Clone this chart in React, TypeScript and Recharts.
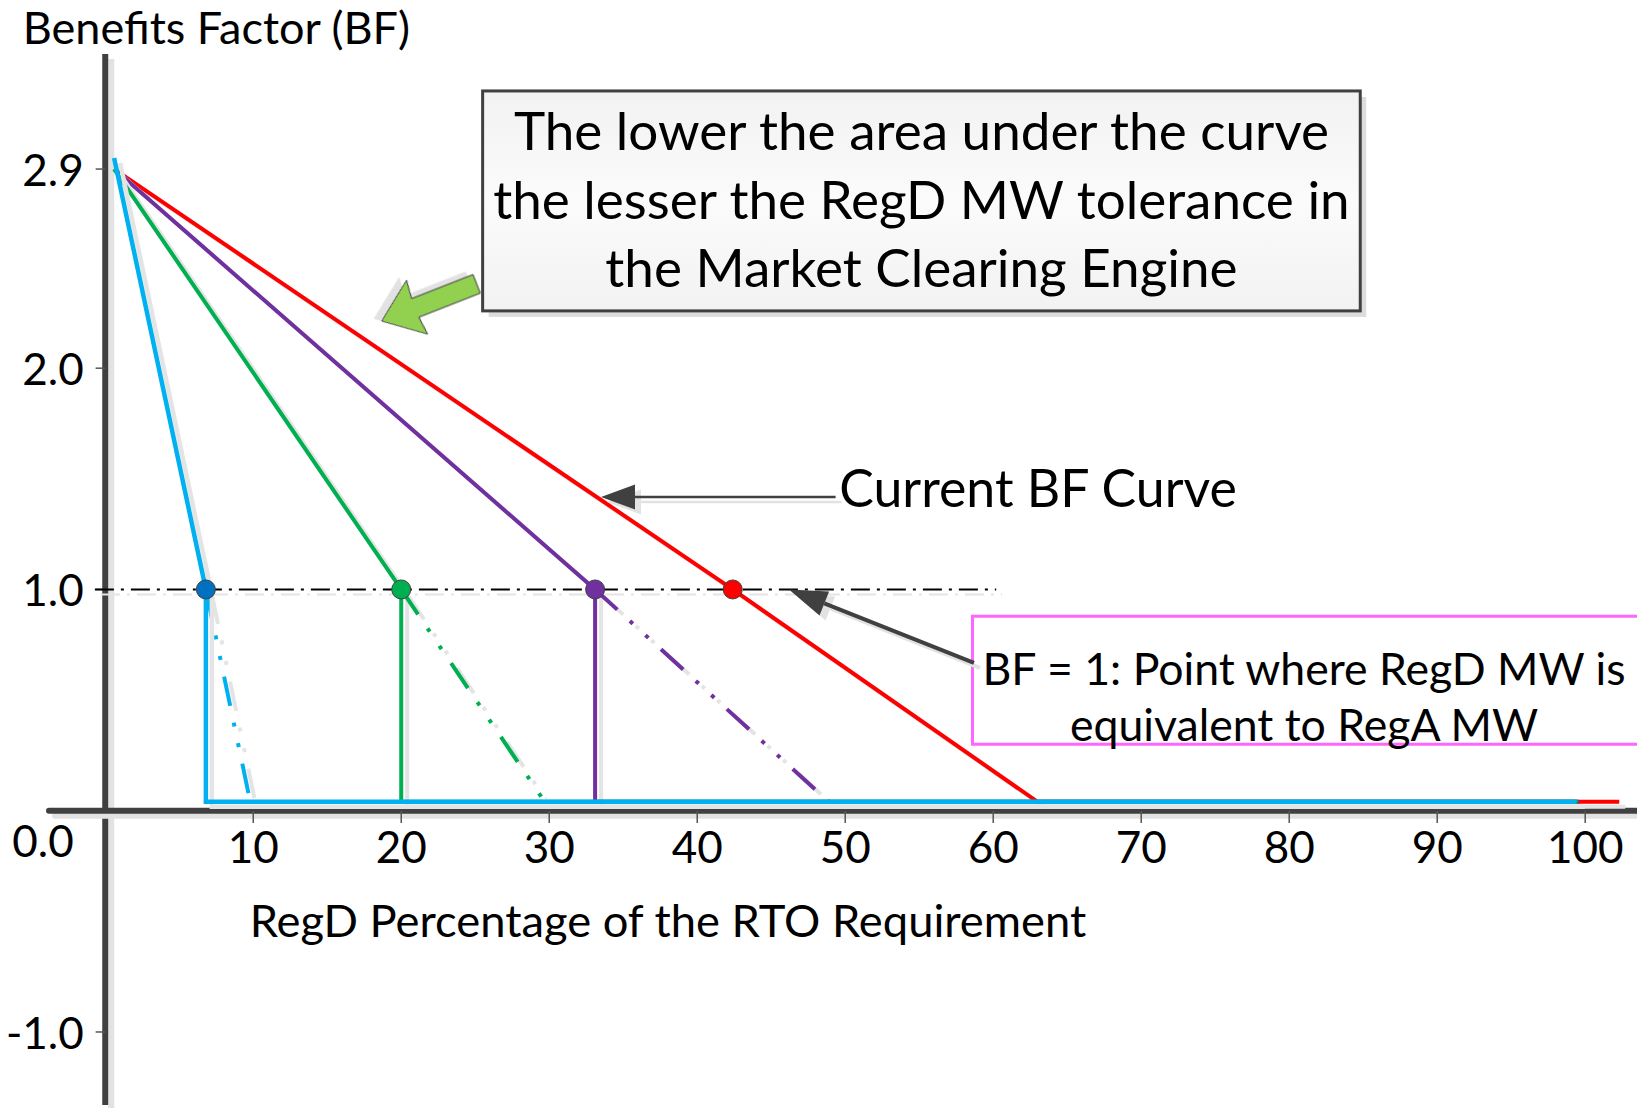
import React from 'react'
import { LineChart, Line, XAxis, YAxis, ReferenceLine, ReferenceDot, ReferenceArea } from 'recharts'

const FONT = "Lato, 'Open Sans', sans-serif"

const xTicks = [10, 20, 30, 40, 50, 60, 70, 80, 90, 100]
const yTicks = [2.9, 2.0, 1.0, -1.0]

// solid BF curves: from the top down to BF = 1, then down/along the floor
const currentCurve = [{ x: 0.6, y: 2.9 }, { x: 42.4, y: 1.0 }, { x: 63, y: 0.04 }, { x: 102.3, y: 0.04 }]
const purpleCurve = [{ x: 0.6, y: 2.9 }, { x: 33.1, y: 1.0 }, { x: 33.1, y: 0.04 }, { x: 99.6, y: 0.04 }]
const greenCurve = [{ x: 0.6, y: 2.9 }, { x: 20, y: 1.0 }, { x: 20, y: 0.04 }, { x: 99.5, y: 0.04 }]
const blueCurve = [{ x: 0.6, y: 2.95 }, { x: 6.8, y: 1.0 }, { x: 6.8, y: 0.04 }, { x: 99.4, y: 0.04 }]

// dash-dot-dot projections past BF = 1
const blueTail = [{ x: 6.8, y: 1.0 }, { x: 9.8, y: 0.04 }]
const greenTail = [{ x: 20, y: 1.0 }, { x: 29.7, y: 0.04 }]
const purpleTail = [{ x: 33.1, y: 1.0 }, { x: 48.9, y: 0.04 }]

const bfOneLine = [{ x: -0.7, y: 1.0 }, { x: 60.2, y: 1.0 }]
const crossingX = [6.8, 20, 33.1, 42.4]
const crossingColors = ['#0070C0', '#00B050', '#7030A0', '#FF0000']

const calloutLines = ['The lower the area under the curve', 'the lesser the RegD MW tolerance in', 'the Market Clearing Engine']
const bfNoteLines = ['BF = 1: Point where RegD MW is', 'equivalent to RegA MW']

const note = (lines: string[], size: number, anchor = 'middle', gap = 0) => (p: any) => (
  <text x={p.cx} y={p.cy} fontFamily={FONT} fontSize={size} fill="#000" textAnchor={anchor} dominantBaseline="central">
    {lines.map((l, i) => (
      <tspan key={i} x={p.cx} dy={i === 0 ? -((lines.length - 1) * gap) / 2 : gap}>{l}</tspan>
    ))}
  </text>
)

const arrow = (w: number, headLen: number, headW: number) => (p: any) => {
  const { x1, y1, x2, y2 } = p
  const len = Math.hypot(x2 - x1, y2 - y1)
  const ux = (x2 - x1) / len
  const uy = (y2 - y1) / len
  const bx = x2 - ux * headLen
  const by = y2 - uy * headLen
  const nx = -uy * headW / 2
  const ny = ux * headW / 2
  return (
    <g className="soft">
      <line x1={x1} y1={y1} x2={bx} y2={by} stroke="#404040" strokeWidth={w} />
      <polygon points={`${x2},${y2} ${bx + nx},${by + ny} ${bx - nx},${by - ny}`} fill="#404040" />
    </g>
  )
}

const blockArrow = (p: any) => (
  <g transform={`translate(${p.cx},${p.cy}) rotate(158.6)`} className="soft">
    <polygon points="0,0 -38,-29 -36,-10 -102,-10 -102,10 -36,10 -38,29" fill="#92D050" stroke="#404040" strokeWidth={1} />
  </g>
)

const calloutBox = (p: any) => {
  const cx = p.x + p.width / 2
  const cy = p.y + p.height / 2 - 3
  return (
    <g>
      <defs>
        <linearGradient id="boxFill" x1="0" y1="0" x2="0" y2="1">
          <stop offset="0" stopColor="#f2f2f2" />
          <stop offset="0.5" stopColor="#fbfbfb" />
          <stop offset="1" stopColor="#f2f2f2" />
        </linearGradient>
      </defs>
      <rect x={p.x + 6} y={p.y + 6} width={p.width} height={p.height} fill="#dcdcdc" />
      <rect x={p.x} y={p.y} width={p.width} height={p.height} fill="url(#boxFill)" stroke="#404040" strokeWidth={3} />
      <text x={cx} y={cy} fontFamily={FONT} fontSize={53} textAnchor="middle" dominantBaseline="central">
        {calloutLines.map((l, i) => (
          <tspan key={i} x={cx} dy={i === 0 ? -68.5 : 68.5}>{l}</tspan>
        ))}
      </text>
    </g>
  )
}

const tail = { strokeWidth: 4, strokeDasharray: '30 17 4 17 4 17' }
const solid = { strokeWidth: 4, dot: false, activeDot: false, isAnimationActive: false } as const

export default function App() {
  return (
    <div style={{ position: 'absolute', left: 0, top: 0, width: 1637, height: 1108, background: '#fff' }}>
      <style>{`.soft{filter:drop-shadow(6px 5px 0 #e2e2e2)} .recharts-line{filter:drop-shadow(6px 5px 0 #e4e4e4)}`}</style>
      <LineChart width={1637} height={1108} margin={{ top: 54, right: 0, bottom: 3, left: 49 }}>
        <XAxis type="number" dataKey="x" domain={[-3.8, 103.5]} allowDataOverflow hide />
        <YAxis type="number" dataKey="y" domain={[-1.33, 3.42]} allowDataOverflow hide />

        <ReferenceLine x={0} stroke="#404040" strokeWidth={6} className="soft" />
        <ReferenceLine y={0} stroke="#404040" strokeWidth={6} strokeLinecap="round" className="soft" />
        {xTicks.map((t) => (
          <ReferenceLine key={t} segment={[{ x: t, y: 0 }, { x: t, y: -0.055 }]} stroke="#555" strokeWidth={1.5} />
        ))}
        {yTicks.map((t) => (
          <ReferenceLine key={t} segment={[{ x: -0.65, y: t }, { x: 0, y: t }]} stroke="#555" strokeWidth={1.5} />
        ))}

        <Line data={bfOneLine} dataKey="y" stroke="#000" strokeWidth={2} strokeDasharray="19 7 3 7" dot={false} activeDot={false} isAnimationActive={false} />

        <Line data={currentCurve} dataKey="y" stroke="#FF0000" {...solid} />
        <Line data={purpleCurve} dataKey="y" stroke="#7030A0" {...solid} />
        <Line data={greenCurve} dataKey="y" stroke="#00B050" {...solid} />
        <Line data={purpleTail} dataKey="y" stroke="#7030A0" {...solid} {...tail} />
        <Line data={greenTail} dataKey="y" stroke="#00B050" {...solid} {...tail} />
        <Line data={blueTail} dataKey="y" stroke="#00B0F0" {...solid} {...tail} />
        <Line data={blueCurve} dataKey="y" stroke="#00B0F0" {...solid} strokeWidth={4.5} />

        {crossingX.map((x, i) => (
          <ReferenceDot key={x} x={x} y={1.0} r={9.5} fill={crossingColors[i]} stroke="#404040" strokeWidth={1} />
        ))}

        {/* axis text */}
        <ReferenceDot x={-5.57} y={3.54} ifOverflow="visible" shape={note(['Benefits Factor (BF)'], 45, 'start')} />
        {yTicks.map((t) => (
          <ReferenceDot key={t} x={-1.45} y={t} ifOverflow="visible" shape={note([t.toFixed(1)], 44, 'end')} />
        ))}
        <ReferenceDot x={-2.13} y={-0.134} ifOverflow="visible" shape={note(['0.0'], 44, 'end')} />
        {xTicks.map((t) => (
          <ReferenceDot key={t} x={t} y={-0.16} ifOverflow="visible" shape={note([String(t)], 44)} />
        ))}
        <ReferenceDot x={9.76} y={-0.49} ifOverflow="visible" shape={note(['RegD Percentage of the RTO Requirement'], 45.3, 'start')} />

        {/* annotations */}
        <ReferenceArea x1={25.5} x2={84.8} y1={2.259} y2={3.253} ifOverflow="visible" shape={calloutBox} />
        <ReferenceDot x={18.68} y={2.213} ifOverflow="visible" shape={blockArrow} />

        <ReferenceLine segment={[{ x: 49.35, y: 1.418 }, { x: 33.5, y: 1.418 }]} ifOverflow="visible" shape={arrow(2.5, 34, 25)} />
        <ReferenceDot x={49.6} y={1.463} ifOverflow="visible" shape={note(['Current BF Curve'], 51.8, 'start')} />

        <ReferenceLine segment={[{ x: 58.7, y: 0.668 }, { x: 46.2, y: 1.0 }]} ifOverflow="visible" shape={arrow(4, 38, 26)} />
        <ReferenceArea x1={58.6} x2={105} y1={0.3} y2={0.879} ifOverflow="visible" fill="#fff" fillOpacity={1} stroke="#FF66FF" strokeWidth={3} />
        <ReferenceDot x={81.0} y={0.5235} ifOverflow="visible" shape={note(bfNoteLines, 44.6, 'middle', 56)} />
      </LineChart>
    </div>
  )
}
